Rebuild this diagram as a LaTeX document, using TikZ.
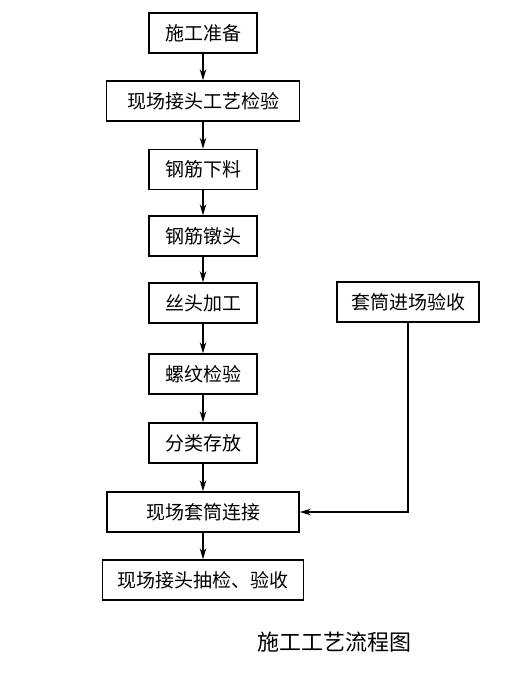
\documentclass[tikz,border=0pt]{standalone}
\usepackage{fontspec}
\newfontfamily\cjk{Noto Sans CJK SC}
\usetikzlibrary{arrows.meta}
\begin{document}
\begin{tikzpicture}[x=1pt,y=-1pt]
\tikzstyle{stepbox} = [draw, line width=1.5pt, minimum height=40pt, inner sep=0, font=\cjk\fontsize{19}{21}\selectfont]
\tikzstyle{flow} = [-{Stealth[length=11pt,width=6.5pt]}, line width=1.2pt]
\useasboundingbox (0,0) rectangle (508,688);

\foreach \t/\w/\y [count=\i] in {施工准备/108/33,现场接头工艺检验/193/101,钢筋下料/108/169.5,钢筋镦头/108/236,丝头加工/108/303,螺纹检验/108/374,分类存放/108/443,现场套筒连接/192/512,现场接头抽检、验收/201/580}
{
	\node [stepbox, minimum width=\w pt] (s\i) at (203,\y) {\t};
}
\foreach \i [evaluate=\i as \j using int(\i+1)] in {1,...,8}
{
	\draw [flow] (s\i) -- (s\j);
}
\node [stepbox, minimum width=142pt] (tao) at (408,302) {套筒进场验收};
\coordinate (turn) at (tao.south |- s8);
\draw [flow] (tao.south) -- (turn) -- (s8.east);
\node [font=\cjk\fontsize{22}{24}\selectfont] (cap) at (334,642) {施工工艺流程图};
\end{tikzpicture}
\end{document}
